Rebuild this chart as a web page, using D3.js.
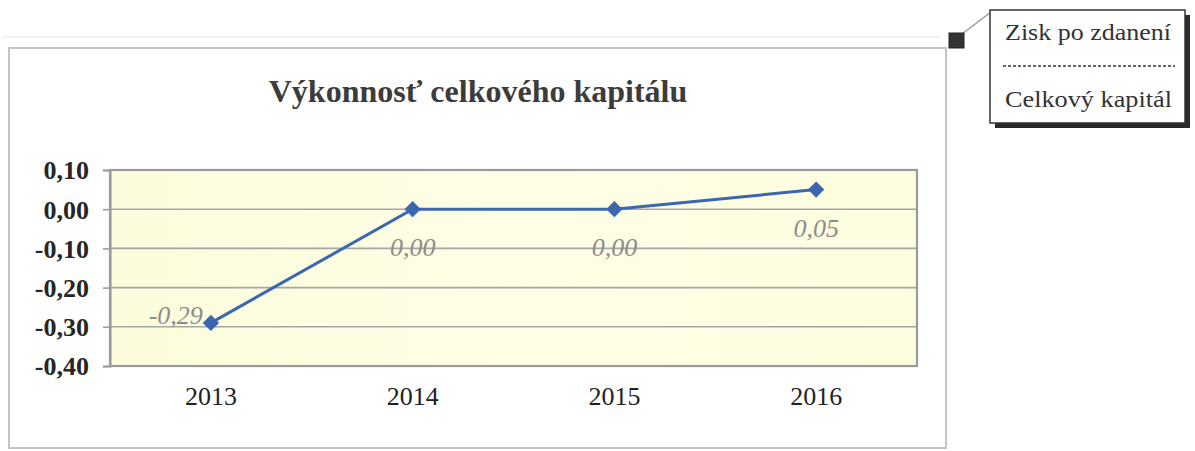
<!DOCTYPE html>
<html>
<head>
<meta charset="utf-8">
<script src="https://cdn.jsdelivr.net/npm/d3@7"></script>
<style>
  html, body { margin: 0; padding: 0; background: #fff; }
  svg { display: block; }
</style>
</head>
<body>
<svg id="chart" width="1195" height="451"></svg>
<script>
const title = "Výkonnosť celkového kapitálu";
const categories = ["2013", "2014", "2015", "2016"];
const values = [-0.29, 0.00, 0.00, 0.05];
const yTicks = [0.10, 0.00, -0.10, -0.20, -0.30, -0.40];
const formulaTop = "Zisk po zdanení";
const formulaBottom = "Celkový kapitál";

const fmt = v => d3.format(".2f")(v).replace(".", ",").replace("−", "-");

const svg = d3.select("#chart");
const serif = "'Liberation Serif', 'Times New Roman', serif";

const plot = { left: 110, top: 170, right: 917, bottom: 366 };

// faint scan shadow line above frame
svg.append("line").attr("x1", 2).attr("x2", 940).attr("y1", 37).attr("y2", 37)
  .attr("stroke", "#f2f2f2").attr("stroke-width", 2);

// outer chart frame
svg.append("rect").attr("x", 9).attr("y", 48).attr("width", 937).attr("height", 400)
  .attr("fill", "#fff").attr("stroke", "#c4c4c4").attr("stroke-width", 2);

// title
svg.append("text").attr("x", 478).attr("y", 102).attr("text-anchor", "middle")
  .attr("font-family", serif).attr("font-weight", "bold").attr("font-size", 32)
  .attr("fill", "#3c3c3c").text(title);

// scales
const x = d3.scaleBand().domain(categories).range([plot.left, plot.right]);
const y = d3.scaleLinear().domain([-0.4, 0.1]).range([plot.bottom, plot.top]);

// plot background gradient
const defs = svg.append("defs");
const grad = defs.append("linearGradient").attr("id", "bg").attr("x1", 0).attr("x2", 1).attr("y1", 0).attr("y2", 0);
grad.append("stop").attr("offset", "0%").attr("stop-color", "#fcfcdc");
grad.append("stop").attr("offset", "50%").attr("stop-color", "#fefee6");
grad.append("stop").attr("offset", "100%").attr("stop-color", "#fdfddf");
svg.append("rect").attr("x", plot.left).attr("y", plot.top)
  .attr("width", plot.right - plot.left).attr("height", plot.bottom - plot.top)
  .attr("fill", "url(#bg)");

// gridlines
svg.append("g").selectAll("line").data(yTicks).join("line")
  .attr("x1", plot.left).attr("x2", plot.right)
  .attr("y1", d => y(d)).attr("y2", d => y(d))
  .attr("stroke", "#a6a6a6").attr("stroke-width", 1.6);

// plot border
svg.append("rect").attr("x", plot.left).attr("y", plot.top)
  .attr("width", plot.right - plot.left).attr("height", plot.bottom - plot.top)
  .attr("fill", "none").attr("stroke", "#9a9a9a").attr("stroke-width", 2.2);

// y axis
const yAxis = d3.axisLeft(y).tickValues(yTicks).tickFormat(fmt).tickSize(7).tickPadding(14);
const gy = svg.append("g").attr("transform", `translate(${plot.left},0)`).call(yAxis);
gy.select(".domain").attr("stroke", "#9a9a9a").attr("stroke-width", 2);
gy.selectAll(".tick line").attr("stroke", "#9a9a9a").attr("stroke-width", 1.6);
gy.selectAll(".tick text").attr("font-family", serif).attr("font-weight", "bold")
  .attr("font-size", 26).attr("fill", "#262626").attr("dy", "0.34em");

// x axis labels
const xAxis = d3.axisBottom(x).tickSize(0).tickPadding(21);
const gx = svg.append("g").attr("transform", `translate(0,${plot.bottom})`).call(xAxis);
gx.select(".domain").remove();
gx.selectAll(".tick text").attr("font-family", serif).attr("font-size", 26).attr("fill", "#222");

// line
const cx = d => x(d) + x.bandwidth() / 2;
const pts = categories.map((c, i) => [cx(c), y(values[i])]);
svg.append("path").datum(pts)
  .attr("d", d3.line())
  .attr("fill", "none").attr("stroke", "#3a67ae").attr("stroke-width", 3);

// markers
svg.append("g").selectAll("path").data(pts).join("path")
  .attr("transform", d => `translate(${d[0]},${d[1]})`)
  .attr("d", d3.symbol().type(d3.symbolDiamond2).size(170))
  .attr("fill", "#3a67ae");

// data labels
svg.append("g").selectAll("text").data(categories).join("text")
  .attr("x", (c, i) => i === 0 ? cx(c) - 8 : cx(c))
  .attr("y", (c, i) => i === 0 ? y(values[i]) + 1 : y(values[i]) + 47)
  .attr("text-anchor", (c, i) => i === 0 ? "end" : "middle")
  .attr("font-family", serif).attr("font-style", "italic").attr("font-size", 26)
  .attr("fill", "#8c8c8c")
  .text((c, i) => fmt(values[i]));

// connector square and line to formula box
svg.append("line").attr("x1", 962).attr("y1", 34).attr("x2", 991).attr("y2", 12)
  .attr("stroke", "#9a9a9a").attr("stroke-width", 1.5);
svg.append("rect").attr("x", 949).attr("y", 33).attr("width", 15).attr("height", 15)
  .attr("fill", "#333").attr("stroke", "#222").attr("stroke-width", 1);

// formula box with shadow
svg.append("rect").attr("x", 995).attr("y", 15).attr("width", 195).attr("height", 113)
  .attr("fill", "#2a2a2a");
svg.append("rect").attr("x", 990).attr("y", 10).attr("width", 195).attr("height", 113)
  .attr("fill", "#fff").attr("stroke", "#333").attr("stroke-width", 1.5);
svg.append("text").attr("x", 1005).attr("y", 40)
  .attr("textLength", 166).attr("lengthAdjust", "spacingAndGlyphs")
  .attr("font-family", serif).attr("font-size", 23).attr("fill", "#333").text(formulaTop);
svg.append("line").attr("x1", 1003).attr("x2", 1175).attr("y1", 66).attr("y2", 66)
  .attr("stroke", "#333").attr("stroke-width", 1.5).attr("stroke-dasharray", "3,2");
svg.append("text").attr("x", 1005).attr("y", 107)
  .attr("textLength", 167).attr("lengthAdjust", "spacingAndGlyphs")
  .attr("font-family", serif).attr("font-size", 23).attr("fill", "#333").text(formulaBottom);
</script>
</body>
</html>
